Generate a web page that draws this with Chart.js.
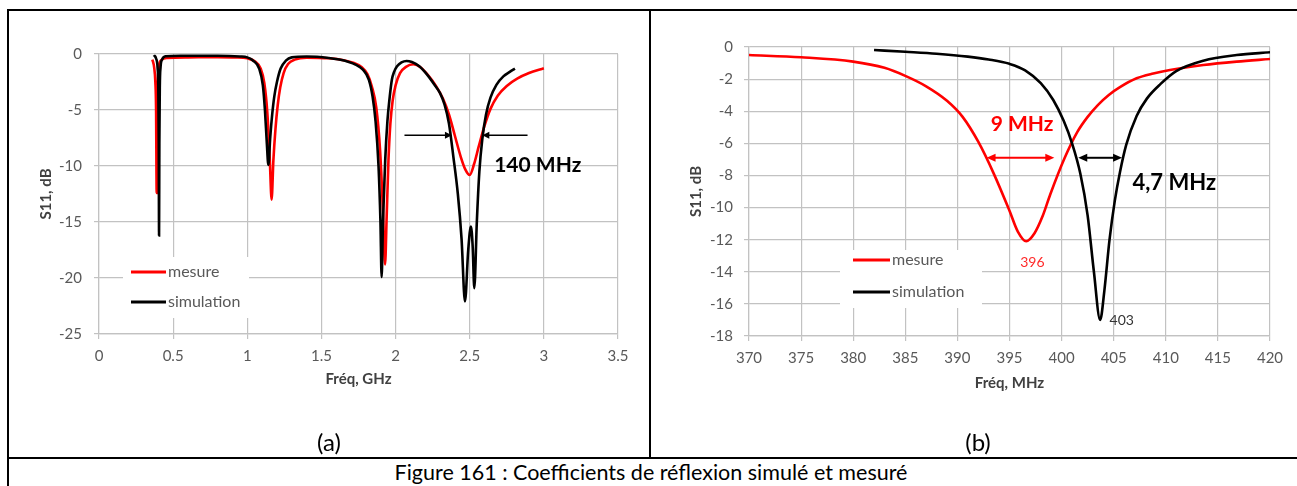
<!DOCTYPE html>
<html><head><meta charset="utf-8">
<script src="https://cdn.jsdelivr.net/npm/chart.js@4.4.1/dist/chart.umd.min.js"></script>
<style>
html,body{margin:0;padding:0;background:#fff;width:1297px;height:486px;overflow:hidden;font-family:Lato,"Open Sans",sans-serif;}
.ln{position:absolute;background:#000;}
canvas{position:absolute;}
.lab{position:absolute;color:#000;transform:translate(-50%,-50%);white-space:nowrap;font-family:Lato,sans-serif;}
</style></head><body>
<div class="ln" style="left:7px;top:9px;width:1300px;height:2px"></div>
<div class="ln" style="left:7px;top:9px;width:2px;height:480px"></div>
<div class="ln" style="left:649px;top:9px;width:2px;height:450px"></div>
<div class="ln" style="left:7px;top:457px;width:1300px;height:2px"></div>
<canvas id="ca" width="636" height="444" style="left:10px;top:12px;width:636px;height:444px"></canvas>
<canvas id="cb" width="643" height="444" style="left:652px;top:12px;width:643px;height:444px"></canvas>
<div class="lab" style="left:329px;top:441px;font-size:24px">(a)</div>
<div class="lab" style="left:978px;top:441px;font-size:24px">(b)</div>
<div class="lab" id="cap" style="left:651px;top:472px;font-size:21.5px">Figure 161 : Coefficients de réflexion simulé et mesuré</div>
<script>
// ---------- data (a) : GHz / dB ----------
const freqA_mesure = [0.36,0.372,0.38,0.385,0.389,0.393,0.398,0.405,0.42,0.46,0.6,0.8,0.92,1.00,1.05,1.09,1.115,1.135,1.152,1.164,1.176,1.19,1.205,1.222,1.245,1.275,1.32,1.40,1.55,1.65,1.72,1.77,1.81,1.84,1.87,1.895,1.915,1.929,1.94,1.952,1.965,1.98,2.00,2.03,2.07,2.12,2.17,2.22,2.27,2.32,2.36,2.40,2.44,2.47,2.50,2.53,2.56,2.60,2.64,2.69,2.75,2.82,2.90,3.00];
const s11A_mesure = [-0.5,-1.2,-2.5,-5,-12.4,-5,-2.2,-1.0,-0.55,-0.35,-0.3,-0.28,-0.3,-0.38,-0.65,-1.3,-2.6,-5.2,-9.5,-13.0,-9.5,-6.7,-4.6,-3.0,-1.7,-0.9,-0.5,-0.32,-0.38,-0.55,-0.8,-1.15,-1.8,-2.9,-4.8,-8.5,-14,-18.8,-14.5,-9.5,-6.2,-4.2,-2.8,-1.7,-1.15,-0.92,-1.2,-1.9,-2.8,-4.0,-5.4,-7.3,-9.2,-10.3,-10.8,-9.8,-8.3,-6.4,-4.9,-3.7,-2.85,-2.2,-1.7,-1.28];
const freqA_sim = [0.37,0.385,0.395,0.40,0.403,0.405,0.407,0.41,0.415,0.425,0.45,0.55,0.8,0.95,1.00,1.04,1.08,1.105,1.119,1.132,1.142,1.155,1.168,1.182,1.20,1.225,1.26,1.30,1.40,1.55,1.62,1.68,1.73,1.78,1.82,1.845,1.865,1.885,1.898,1.906,1.915,1.93,1.945,1.96,1.975,1.99,2.01,2.04,2.074,2.11,2.16,2.21,2.26,2.30,2.33,2.36,2.39,2.42,2.445,2.468,2.49,2.508,2.52,2.531,2.548,2.565,2.585,2.61,2.64,2.68,2.727,2.77,2.805];
const s11A_sim = [-0.1,-0.4,-1.2,-3,-8,-16.2,-8,-3,-1.2,-0.5,-0.2,-0.15,-0.15,-0.22,-0.3,-0.6,-1.3,-2.8,-5,-8,-9.9,-7.4,-5.4,-3.8,-2.5,-1.3,-0.6,-0.3,-0.22,-0.35,-0.5,-0.7,-0.95,-1.4,-2.3,-3.8,-6.0,-10,-15,-19.9,-15,-9.5,-6.0,-3.9,-2.3,-1.6,-1.1,-0.75,-0.62,-0.72,-1.1,-1.8,-2.7,-3.5,-4.5,-6.2,-9.2,-12.5,-16.5,-22.1,-17.5,-15.4,-17.2,-20.9,-15,-10.5,-7.6,-5.4,-3.9,-2.75,-2.0,-1.6,-1.3];
const xTicksA = [0,0.5,1,1.5,2,2.5,3,3.5];
const xTickLabelsA = ['0','0.5','1','1.5','2','2.5','3','3.5'];
const yTicksA = [0,-5,-10,-15,-20,-25];
const yTickLabelsA = ['0','-5','-10','-15','-20','-25'];

// ---------- data (b) : MHz / dB ----------
const freqB_mesure = [370,375,380,383,385,387,389,390.5,392,393.5,395,395.8,396.6,397.4,398.2,398.9,400.3,401.5,402.5,403.5,404.5,405.6,407.2,408.8,410.4,413.6,416.8,420];
const s11B_mesure = [-0.5,-0.64,-0.91,-1.3,-1.8,-2.45,-3.35,-4.35,-5.9,-7.9,-10.2,-11.5,-12.1,-11.6,-10.5,-9.2,-6.9,-5.3,-4.35,-3.6,-3.0,-2.5,-1.95,-1.65,-1.43,-1.12,-0.91,-0.75];
const freqB_sim = [382,385,388,391,393,395,396.5,398,399.2,400.2,401.0,401.8,402.5,403.1,403.7,404.1,404.6,405.1,405.6,406.2,407.2,408.2,409.5,411,413.6,416.8,420];
const s11B_sim = [-0.19,-0.3,-0.42,-0.6,-0.78,-1.05,-1.45,-2.25,-3.3,-4.6,-6.0,-7.9,-10.5,-14.0,-17.0,-15.2,-12.0,-9.6,-7.8,-6.1,-4.3,-3.2,-2.3,-1.5,-0.85,-0.5,-0.33];
const xTicksB = [370,375,380,385,390,395,400,405,410,415,420];
const xTickLabelsB = ['370','375','380','385','390','395','400','405','410','415','420'];
const yTicksB = [0,-2,-4,-6,-8,-10,-12,-14,-16,-18];
const yTickLabelsB = ['0','-2','-4','-6','-8','-10','-12','-14','-16','-18'];

const seriesNames = ['mesure','simulation'];
const seriesColors = ['#ff0000','#000000'];

// ---------- annotations (data units) ----------
const annotA = {
  arrows: [{y:-7.25, from:2.06, to:2.38, color:'#000', heads:'end'}, {y:-7.25, from:2.89, to:2.585, color:'#000', heads:'end'}],
  texts: [{x:2.665, y:-9.9, text:'140 MHz', color:'#000', font:'bold 21px Lato', align:'left'}]
};
const annotB = {
  arrows: [{y:-6.9, from:392.8, to:399.3, color:'#ff0000', heads:'both'}, {y:-6.9, from:401.6, to:405.8, color:'#000', heads:'both'}],
  texts: [
    {x:396.2, y:-4.8, text:'9 MHz', color:'#ff0000', font:'bold 21px Lato', align:'center'},
    {x:406.8, y:-8.47, text:'4,7 MHz', color:'#000', font:'bold 22px Lato', align:'left'},
    {x:397.2, y:-13.4, text:'396', color:'#ff2a2a', font:'14px Lato', align:'center'},
    {x:404.6, y:-17.06, text:'403', color:'#333', font:'14px Lato', align:'left'}
  ]
};

function pts(xs, ys){ return xs.map((x,i)=>({x:x, y:ys[i]})); }

const annotPlugin = {
  id:'annot',
  afterDatasetsDraw(chart, args, opts){
    const ctx = chart.ctx, xs = chart.scales.x, ys = chart.scales.y, a = opts.data;
    const lw = opts.lw, hl = opts.hl, hw = opts.hw;
    ctx.save();
    a.arrows.forEach(ar=>{
      const x1 = xs.getPixelForValue(ar.from), x2 = xs.getPixelForValue(ar.to), y = ys.getPixelForValue(ar.y);
      const dir = Math.sign(x2-x1);
      ctx.strokeStyle = ar.color; ctx.fillStyle = ar.color; ctx.lineWidth = lw;
      ctx.beginPath();
      ctx.moveTo(ar.heads==='both' ? x1 + dir*hl*0.8 : x1, y);
      ctx.lineTo(x2 - dir*hl*0.8, y); ctx.stroke();
      const head = (x, d)=>{ ctx.beginPath(); ctx.moveTo(x,y); ctx.lineTo(x-d*hl, y-hw/2); ctx.lineTo(x-d*hl, y+hw/2); ctx.closePath(); ctx.fill(); };
      head(x2, dir);
      if (ar.heads==='both') head(x1, -dir);
    });
    a.texts.forEach(t=>{
      ctx.font = t.font; ctx.fillStyle = t.color; ctx.textAlign = t.align; ctx.textBaseline = 'middle';
      ctx.fillText(t.text, xs.getPixelForValue(t.x), ys.getPixelForValue(t.y));
    });
    ctx.restore();
  }
};

const boxLegend = {
  id:'boxLegend',
  afterDatasetsDraw(chart, args, o){
    const ctx = chart.ctx, ca = chart.chartArea;
    ctx.save();
    ctx.fillStyle = '#fff';
    ctx.fillRect(ca.left+o.bx, ca.top+o.by, o.bw, o.bh);
    chart.data.datasets.forEach((d,i)=>{
      const y = ca.top + o.ly + i*o.gap;
      ctx.strokeStyle = d.borderColor; ctx.lineWidth = 3;
      ctx.beginPath(); ctx.moveTo(ca.left+o.lx, y); ctx.lineTo(ca.left+o.lx+o.lw, y); ctx.stroke();
      ctx.fillStyle = '#595959'; ctx.font = '16px Lato'; ctx.textAlign='left'; ctx.textBaseline='middle';
      ctx.fillText(d.label, ca.left+o.lx+o.lw+2, y);
    });
    ctx.restore();
  }
};

function makeChart(id, cfg){
  const grid = {color:'#c2c2c2', lineWidth:1.2, tickLength:5, drawTicks:true};
  const border = {color:'#c2c2c2', width:1.2};
  return new Chart(document.getElementById(id), {
    type:'scatter',
    data:{datasets:[
      {label:seriesNames[0], data:pts(cfg.fm, cfg.sm), borderColor:seriesColors[0], backgroundColor:seriesColors[0], showLine:true, borderWidth:2.6, pointRadius:0, cubicInterpolationMode:'monotone', order:1},
      {label:seriesNames[1], data:pts(cfg.fs, cfg.ss), borderColor:seriesColors[1], backgroundColor:seriesColors[1], showLine:true, borderWidth:2.6, pointRadius:0, cubicInterpolationMode:'monotone', order:0}
    ]},
    options:{
      responsive:false, animation:false, devicePixelRatio:1,
      layout:{padding:cfg.pad},
      plugins:{legend:{display:false}, tooltip:{enabled:false}, annot:{data:cfg.annot, lw:cfg.alw, hl:cfg.hl, hw:cfg.hw}, boxLegend:cfg.leg},
      scales:{
        x:{type:'linear', min:cfg.xt[0], max:cfg.xt[cfg.xt.length-1], grid:grid, border:border,
           afterBuildTicks:s=>{s.ticks = cfg.xt.map(v=>({value:v}));},
           afterFit:s=>{s.height = cfg.xh;},
           ticks:{color:'#595959', font:{family:'Lato', size:15}, padding:8, maxRotation:0, autoSkip:false, callback:(v,i)=>cfg.xl[i]},
           title:{display:true, text:cfg.xtitle, color:'#404040', font:{family:'Lato', size:15, weight:'bold'}, padding:{top:0,bottom:cfg.xtp}}},
        y:{type:'linear', min:cfg.yt[cfg.yt.length-1], max:cfg.yt[0], grid:grid, border:border,
           afterBuildTicks:s=>{s.ticks = cfg.yt.slice().reverse().map(v=>({value:v}));},
           afterFit:s=>{s.width = cfg.yw;},
           ticks:{color:'#595959', font:{family:'Lato', size:15}, padding:cfg.ytpad, autoSkip:false, callback:(v,i)=>cfg.yl[cfg.yl.length-1-i]},
           title:{display:true, text:'S11, dB', color:'#404040', font:{family:'Lato', size:15, weight:'bold'}, padding:{top:cfg.ytp,bottom:0}}}
      }
    },
    plugins:[annotPlugin, boxLegend]
  });
}

function draw(){
  makeChart('ca', {fm:freqA_mesure, sm:s11A_mesure, fs:freqA_sim, ss:s11A_sim,
    xt:xTicksA, xl:xTickLabelsA, yt:yTicksA, yl:yTickLabelsA, xtitle:'Fréq, GHz',
    pad:{left:0, top:42, right:28, bottom:52}, xh:70, yw:89, xtp:16, ytp:27, ytpad:12,
    annot:annotA, alw:1.6, hl:7, hw:7,
    leg:{bx:24, by:203, bw:126, bh:61, lx:32, lw:35, ly:218, gap:30}});
  makeChart('cb', {fm:freqB_mesure, sm:s11B_mesure, fs:freqB_sim, ss:s11B_sim,
    xt:xTicksB, xl:xTickLabelsB, yt:yTicksB, yl:yTickLabelsB, xtitle:'Fréq, MHz',
    pad:{left:0, top:35, right:25, bottom:50}, xh:70, yw:97, xtp:14, ytp:35, ytpad:11,
    annot:annotB, alw:2, hl:9, hw:8,
    leg:{bx:91, by:203, bw:142, bh:58, lx:104, lw:37, ly:213, gap:32}});
}
if (document.fonts && document.fonts.load) {
  Promise.all([document.fonts.load('15px Lato'), document.fonts.load('bold 15px Lato')]).then(draw, draw);
} else draw();
</script>
</body></html>
